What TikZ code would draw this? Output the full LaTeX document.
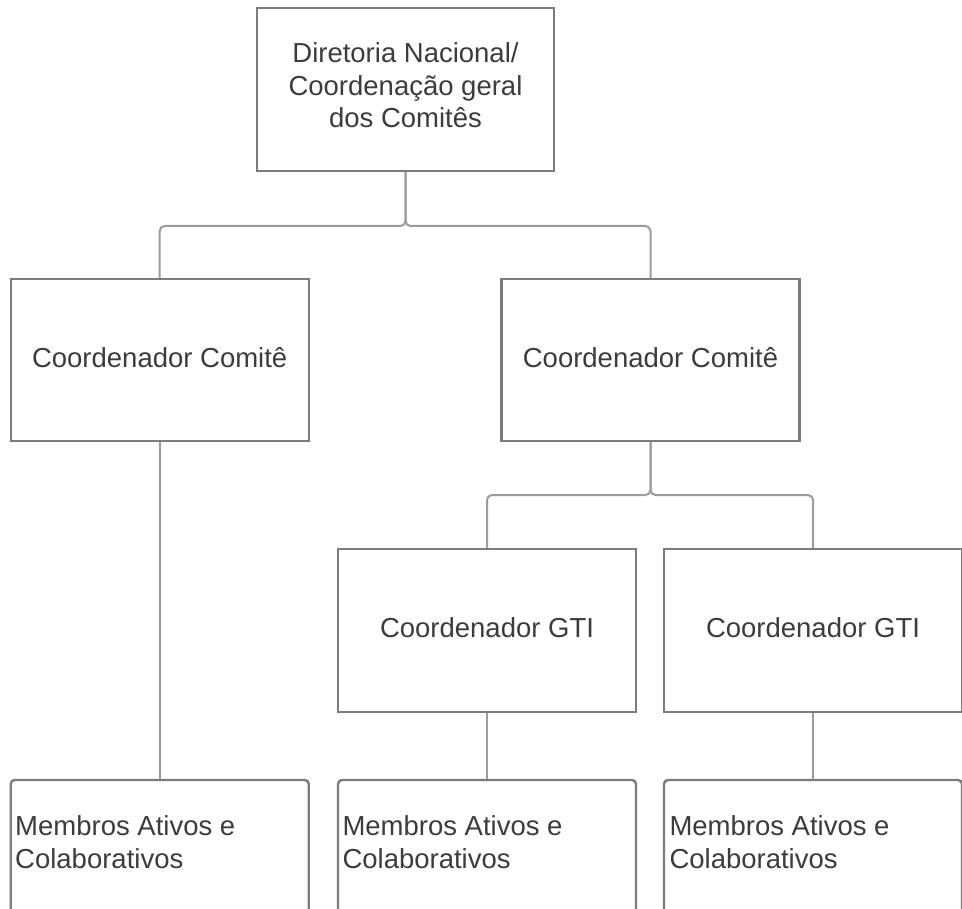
\documentclass[tikz,border=0pt]{standalone}
\usepackage{fontspec}
\setmainfont{Liberation Sans}
\usetikzlibrary{calc}
\definecolor{boxline}{HTML}{7C7C7C}
\definecolor{connline}{HTML}{9C9C9C}
\definecolor{txt}{HTML}{3C3C3C}
\begin{document}
\begin{tikzpicture}[x=1pt,y=-1pt,
  box/.style={draw=boxline, line width=2.4pt, minimum width=298pt, inner sep=0pt,
    text=txt, font=\fontsize{27.5}{32.5}\selectfont, align=center, text depth=6pt},
  mbox/.style={draw=boxline, line width=2.4pt, minimum width=298pt, minimum height=200pt,
    rounded corners=4pt, inner sep=0pt},
  mtext/.style={text=txt, font=\fontsize{27.5}{33}\selectfont, align=left, inner sep=0pt, anchor=north west},
  conn/.style={draw=connline, line width=2pt, rounded corners=5pt}]
\useasboundingbox (0,0) rectangle (962,909);
\clip (0,0) rectangle (962,909);
\fill[white] (0,0) rectangle (962,909);

% boxes
\node[box, minimum width=297pt, minimum height=163pt, text depth=8pt] (top) at (405.5,89.5)
  {Diretoria Nacional/\\Coordenação geral\\dos Comitês};
\node[box, minimum height=162pt] (c1) at (159.7,360) {Coordenador Comitê};
\node[box, minimum height=162pt] (c2) at (650.5,360) {Coordenador Comitê};
\node[box, minimum height=163pt] (g1) at (487,630.5) {Coordenador GTI};
\node[box, minimum height=163pt] (g2) at (813,630.5) {Coordenador GTI};
\node[mbox] (m1) at (159.7,880) {};
\node[mbox] (m2) at (487,880) {};
\node[mbox] (m3) at (813,880) {};
\node[mtext] (m1t) at ($(m1.north west)+(5.5,36.5)$) {Membros Ativos e\\Colaborativos};
\node[mtext] (m2t) at ($(m2.north west)+(5.5,36.5)$) {Membros Ativos e\\Colaborativos};
\node[mtext] (m3t) at ($(m3.north west)+(6.5,36.5)$) {Membros Ativos e\\Colaborativos};

% junctions
\coordinate (j1) at (405.5,226);
\coordinate (j2) at (650.5,495);

% connectors
\draw[conn] (top.south) |- (c1.north |- j1) -- (c1.north);
\draw[conn] (top.south) |- (c2.north |- j1) -- (c2.north);
\draw[conn] (c2.south) |- (g1.north |- j2) -- (g1.north);
\draw[conn] (c2.south) |- (g2.north |- j2) -- (g2.north);
\draw[conn] (c1.south) -- (m1.north);
\draw[conn] (g1.south) -- (m2.north);
\draw[conn] (g2.south) -- (m3.north);
\end{tikzpicture}
\end{document}
